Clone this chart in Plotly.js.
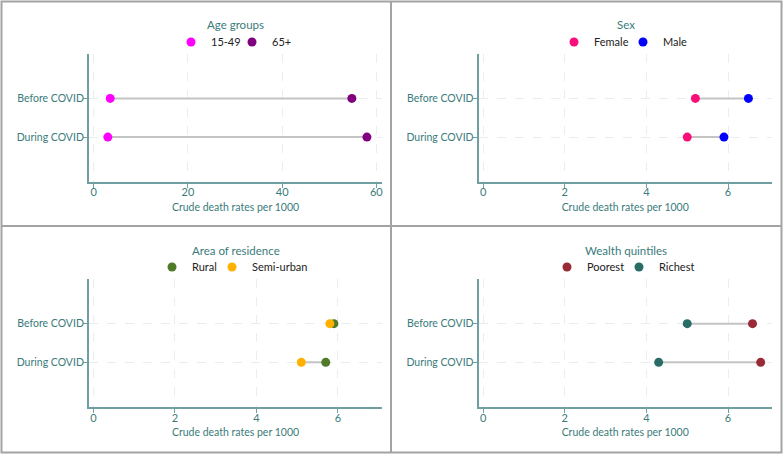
<!DOCTYPE html>
<html>
<head>
<meta charset="utf-8">
<script src="https://cdn.plot.ly/plotly-3.0.1.min.js"></script>
<style>html,body{margin:0;padding:0;background:#fff;}#chart{width:784px;height:455px;}</style>
</head>
<body>
<div id="chart"></div>
<script>
// ---- Data ----
const periods = ["Before COVID", "During COVID"];
const panelTitles = ["Age groups", "Sex", "Area of residence", "Wealth quintiles"];
const xAxisTitle = "Crude death rates per 1000";

const ageNames = ["15-49", "65+"];
const age1549 = [3.5, 3.0];
const age65 = [54.8, 58.0];

const sexNames = ["Female", "Male"];
const female = [5.2, 5.0];
const male = [6.5, 5.9];

const areaNames = ["Rural", "Semi-urban"];
const rural = [5.9, 5.7];
const semiUrban = [5.8, 5.1];

const wealthNames = ["Poorest", "Richest"];
const poorest = [6.6, 6.8];
const richest = [5.0, 4.3];

const ticksAge = [0, 20, 40, 60];
const ticksSmall = [0, 2, 4, 6];

// ---- Styles ----
const W = 784, H = 455;
const teal = "#3a7b7b";
const fontFam = "Lato, 'Open Sans', sans-serif";
const panels = [
  {a: age1549, b: age65, names: ageNames, colors: ["#ff00ff", "#800080"], xa: "x", ya: "y", range: [-1, 61.2], ticks: ticksAge,
   legX: [191, 252], legY: 42, titleX: 235, titleY: 24},
  {a: female, b: male, names: sexNames, colors: ["#fa0f7a", "#0000ff"], xa: "x2", ya: "y2", range: [-0.11, 7.07], ticks: ticksSmall,
   legX: [574, 643], legY: 42, titleX: 626, titleY: 24},
  {a: rural, b: semiUrban, names: areaNames, colors: ["#4f7a28", "#ffb000"], xa: "x3", ya: "y3", range: [-0.11, 7.08], ticks: ticksSmall,
   legX: [172, 232], legY: 267, titleX: 236, titleY: 250},
  {a: poorest, b: richest, names: wealthNames, colors: ["#9b2a37", "#296d66"], xa: "x4", ya: "y4", range: [-0.11, 7.07], ticks: ticksSmall,
   legX: [567, 639], legY: 267, titleX: 626, titleY: 250}
];

const traces = [];
const legends = {};
const annotations = [];
const symOffset = 20; // px from legend left edge to symbol centre
panels.forEach((p, i) => {
  const lx = [], ly = [];
  periods.forEach((per, k) => { lx.push(p.a[k], p.b[k], null); ly.push(per, per, null); });
  traces.push({type: "scatter", mode: "lines", x: lx, y: ly, xaxis: p.xa, yaxis: p.ya,
    line: {color: "#c4c4c4", width: 2}, showlegend: false, hoverinfo: "skip"});
  [p.a, p.b].forEach((vals, j) => {
    const n = 1 + i * 2 + j;
    const legendId = n === 1 ? "legend" : "legend" + n;
    traces.push({type: "scatter", mode: "markers", x: vals, y: periods, xaxis: p.xa, yaxis: p.ya,
      name: p.names[j], legend: legendId,
      marker: {color: p.colors[j], size: 9}});
    legends[legendId] = {orientation: "h", x: (p.legX[j] - symOffset) / W, xanchor: "left",
      y: 1 - p.legY / H, yanchor: "middle", bgcolor: "rgba(0,0,0,0)", itemwidth: 30,
      font: {family: fontFam, size: 11, color: "#222"}};
  });
  annotations.push({text: panelTitles[i], xref: "paper", yref: "paper", x: p.titleX / W, y: 1 - p.titleY / H,
    xanchor: "center", yanchor: "middle", showarrow: false, font: {family: fontFam, size: 11.5, color: teal}});
});

const dxL = [89 / W, 382 / W], dxR = [478.7 / W, 771.7 / W];
const dyT = [1 - 182 / H, 1 - 53.5 / H], dyB = [1 - 407.3 / H, 1 - 278.7 / H];

function xAxis(p, dom, anchor) {
  return {domain: dom, anchor: anchor, range: p.range, tickvals: p.ticks, ticktext: p.ticks.map(String),
    showline: true, linecolor: "#6f9fa0", linewidth: 2, ticks: "outside", ticklen: 4, tickcolor: "#6f9fa0",
    showgrid: true, gridcolor: "#eaeef0", griddash: "dash", gridwidth: 1, zeroline: false,
    ticklabelstandoff: -5,
    tickfont: {family: fontFam, size: 11, color: teal},
    title: {text: xAxisTitle, font: {family: fontFam, size: 10.5, color: teal}, standoff: 6}};
}
function yAxis(dom, anchor) {
  return {domain: dom, anchor: anchor, type: "category", categoryorder: "array",
    categoryarray: [periods[1], periods[0]], range: [-1.16, 2.16],
    showline: true, linecolor: "#6f9fa0", linewidth: 2, ticks: "outside", ticklen: 4, tickcolor: "#6f9fa0",
    showgrid: true, gridcolor: "#e6eef0", griddash: "dash", gridwidth: 1, zeroline: false,
    ticklabelstandoff: -3,
    tickfont: {family: fontFam, size: 10.5, color: teal}};
}

const border = "#a3a3a3";
const layout = Object.assign({
  width: W, height: H, margin: {l: 0, r: 0, t: 0, b: 0},
  paper_bgcolor: "#fff", plot_bgcolor: "#fff", showlegend: true,
  font: {family: fontFam, color: teal},
  xaxis: xAxis(panels[0], dxL, "y"), yaxis: yAxis(dyT, "x"),
  xaxis2: xAxis(panels[1], dxR, "y2"), yaxis2: yAxis(dyT, "x2"),
  xaxis3: xAxis(panels[2], dxL, "y3"), yaxis3: yAxis(dyB, "x3"),
  xaxis4: xAxis(panels[3], dxR, "y4"), yaxis4: yAxis(dyB, "x4"),
  annotations: annotations,
  shapes: [
    {type: "rect", xref: "paper", yref: "paper", x0: 1.5 / W, x1: 781.5 / W, y0: 1 - 452.5 / H, y1: 1 - 1.5 / H, line: {color: border, width: 2}},
    {type: "line", xref: "paper", yref: "paper", x0: 391 / W, x1: 391 / W, y0: 1 - 452.5 / H, y1: 1 - 1.5 / H, line: {color: border, width: 2}},
    {type: "line", xref: "paper", yref: "paper", x0: 1.5 / W, x1: 781.5 / W, y0: 1 - 226 / H, y1: 1 - 226 / H, line: {color: border, width: 2}}
  ]
}, legends);

Plotly.newPlot("chart", traces, layout, {displayModeBar: false, staticPlot: true});
</script>
</body>
</html>
